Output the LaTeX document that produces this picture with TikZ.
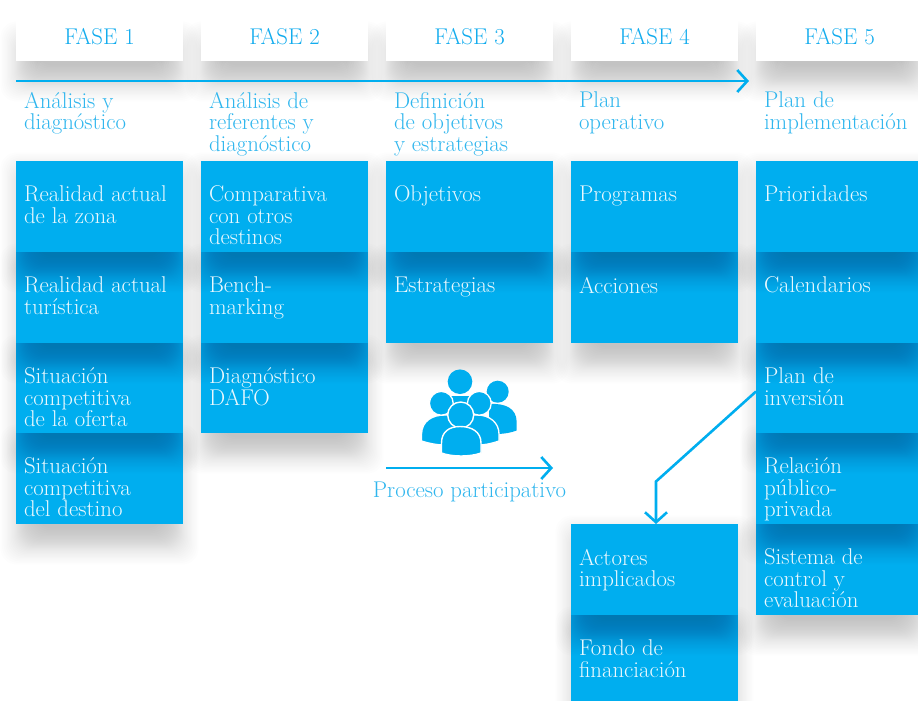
\documentclass[tikz,border=0pt]{standalone}
\usetikzlibrary{arrows.meta}
\definecolor{bluebox}{HTML}{00AEEF}
\definecolor{bluetxt}{HTML}{2FB6EE}
\definecolor{bluefase}{HTML}{12ACEE}
\definecolor{whitetxt}{HTML}{EAF8FE}
\tikzset{
  box/.style={fill=bluebox,draw=none,anchor=north west,inner sep=0pt,outer sep=0pt,minimum width=167pt},
  fasebox/.style={fill=white,draw=none,anchor=north west,inner sep=0pt,outer sep=0pt,minimum width=167pt,minimum height=46pt},
  fasetext/.style={inner sep=0pt,outer sep=0pt,text=bluefase,font=\fontsize{22.8}{24}\selectfont},
  boxtext/.style={anchor=north west,inner sep=0pt,outer sep=0pt,align=left,text=whitetxt,font=\fontsize{22.8}{21.5}\selectfont},
  subtext/.style={anchor=north west,inner sep=0pt,outer sep=0pt,align=left,text=bluetxt,font=\fontsize{22.8}{21.5}\selectfont},
  flow/.style={draw=bluebox,line width=2.6pt,-{Straight Barb[length=10pt,width=22pt,line width=2.6pt]}},
  person/.style={fill=bluebox,draw=none},
  personw/.style={fill=bluebox,draw=white,line width=1.3pt}
}
\newcommand{\softshade}[4]{%
  \foreach \i in {0,...,29}{%
    \pgfmathsetmacro{\tt}{\i/29}
    \pgfmathsetmacro{\st}{36*(\tt+0.3*sin(360*\tt)/6.283)}
    \pgfmathsetmacro{\dx}{-15.5+\st}
    \pgfmathsetmacro{\dt}{-8.5+\st}
    \pgfmathsetmacro{\db}{40.5-\st}
    \fill[black,opacity=0.0078,rounded corners=16pt] (#1+\dx,#2+\dt) rectangle (#3-\dx,#4+\db);
  }%
}
% name, x, y, height
\newcommand{\stackbox}[4]{%
  \softshade{#2}{#3}{#2+167}{#3+#4}
  \node[box,minimum height=#4pt] (#1) at (#2,#3) {};
}
\newcommand{\boxlabel}[2]{%
  \node[boxtext] (#1t) at ([xshift=8pt,yshift=-25pt]#1.north west) {\rule{0pt}{15pt}#2};
}
\newcommand{\fasehead}[3]{%
  \node[fasebox] (#1) at (#2,15) {};
  \node[fasetext] (#1t) at ([yshift=1.5pt]#1.center) {#3};
}
\begin{document}
\begin{tikzpicture}[x=1pt,y=-1pt]
\useasboundingbox (0,0) rectangle (918,701);
\clip (0,0) rectangle (918,701);
\fill[white] (0,0) rectangle (918,701);
% header shadows
\softshade{16}{30}{183}{61}
\softshade{201}{30}{368}{61}
\softshade{386}{30}{553}{61}
\softshade{571}{30}{738}{61}
\softshade{756}{30}{923}{61}
% column 1 (bottom to top)
\stackbox{a4}{16}{433}{91}
\stackbox{a3}{16}{343}{90}
\stackbox{a2}{16}{252}{91}
\stackbox{a1}{16}{161}{91}
% column 2
\stackbox{b3}{201}{343}{90}
\stackbox{b2}{201}{252}{91}
\stackbox{b1}{201}{161}{91}
% column 3
\stackbox{c2}{386}{252}{91}
\stackbox{c1}{386}{161}{91}
% column 4
\stackbox{d2}{571}{252}{91}
\stackbox{d1}{571}{161}{91}
% column 5
\stackbox{e5}{756}{524}{91}
\stackbox{e4}{756}{433}{91}
\stackbox{e3}{756}{343}{90}
\stackbox{e2}{756}{252}{91}
\stackbox{e1}{756}{161}{91}
% funding
\stackbox{g2}{571}{615}{91}
\stackbox{g1}{571}{524}{91}
% phase headers
\fasehead{f1}{16}{FASE 1}
\fasehead{f2}{201}{FASE 2}
\fasehead{f3}{386}{FASE 3}
\fasehead{f4}{571}{FASE 4}
\fasehead{f5}{756}{FASE 5}
% subtitles
\node[subtext] (s1) at (24,92) {\rule{0pt}{15pt}Análisis y\\diagnóstico};
\node[subtext] (s2) at (209,92) {\rule{0pt}{15pt}Análisis de\\referentes y\\diagnóstico};
\node[subtext] (s3) at (394,92) {\rule{0pt}{15pt}Definición\\de objetivos\\y estrategias};
\node[subtext] (s4) at (579,92) {\rule{0pt}{15pt}Plan\\operativo};
\node[subtext] (s5) at (764,92) {\rule{0pt}{15pt}Plan de\\implementación};
% box texts
\boxlabel{a1}{Realidad actual\\de la zona}
\boxlabel{a2}{Realidad actual\\turística}
\boxlabel{a3}{Situación\\competitiva\\de la oferta}
\boxlabel{a4}{Situación\\competitiva\\del destino}
\boxlabel{b1}{Comparativa\\con otros\\destinos}
\boxlabel{b2}{Bench-\\marking}
\boxlabel{b3}{Diagnóstico\\DAFO}
\boxlabel{c1}{Objetivos}
\boxlabel{c2}{Estrategias}
\boxlabel{d1}{Programas}
\boxlabel{d2}{Acciones}
\boxlabel{e1}{Prioridades}
\boxlabel{e2}{Calendarios}
\boxlabel{e3}{Plan de\\inversión}
\boxlabel{e4}{Relación\\público-\\privada}
\boxlabel{e5}{Sistema de\\control y\\evaluación}
\boxlabel{g1}{Actores\\implicados}
\boxlabel{g2}{Fondo de\\financiación}
% timeline
\coordinate (tl0) at (16,81);
\coordinate (tl1) at (749,81);
\draw[flow] (tl0) -- (tl1);
% people icon
\fill[person] (460,381.7) circle (12.3);
\fill[person] (451,396) rectangle (470,410);
\fill[person] (497.7,391.7) circle (11);
\fill[person] (489,404) .. controls (505,403) and (516.5,408) .. (516.7,422) -- (516.7,430.5) .. controls (510,433) and (505,433.5) .. (499,434) -- (489,434) -- cycle;
\fill[personw] (421.5,441) -- (421.5,434) .. controls (422,421) and (432,415) .. (445,415) -- (477,415) .. controls (490,415) and (499,423) .. (499,434) -- (499,441) .. controls (490,444) and (484,445) .. (478,445) -- (445,445) .. controls (436,445) and (428,443) .. (421.5,441) -- cycle;
\draw[personw] (441.3,403.3) circle (11.9);
\draw[personw] (479.3,403.3) circle (11.9);
\draw[draw=white,fill=bluebox,line width=1.4pt] (460.7,415) circle (13);
\draw[draw=white,fill=bluebox,line width=1.4pt] (441.5,453) -- (441.5,443) .. controls (441.5,432) and (449,426.5) .. (460,426.5) .. controls (472,426.5) and (481,432) .. (481,443) -- (481,453) .. controls (470,457) and (452,457) .. (441.5,453) -- cycle;
% participatory
\coordinate (pp0) at (386,468);
\coordinate (pp1) at (553,468);
\draw[flow] (pp0) -- (pp1);
\node[anchor=base,inner sep=0pt,text=bluetxt,font=\fontsize{22.8}{21.5}\selectfont] (pp) at (469.5,497) {Proceso participativo};
% connector
\coordinate (bend) at (656,481.5);
\draw[flow,line join=miter] ([yshift=-3.5pt]e3.west) -- (bend) -- ([xshift=1.5pt]g1.north);
\end{tikzpicture}
\end{document}
